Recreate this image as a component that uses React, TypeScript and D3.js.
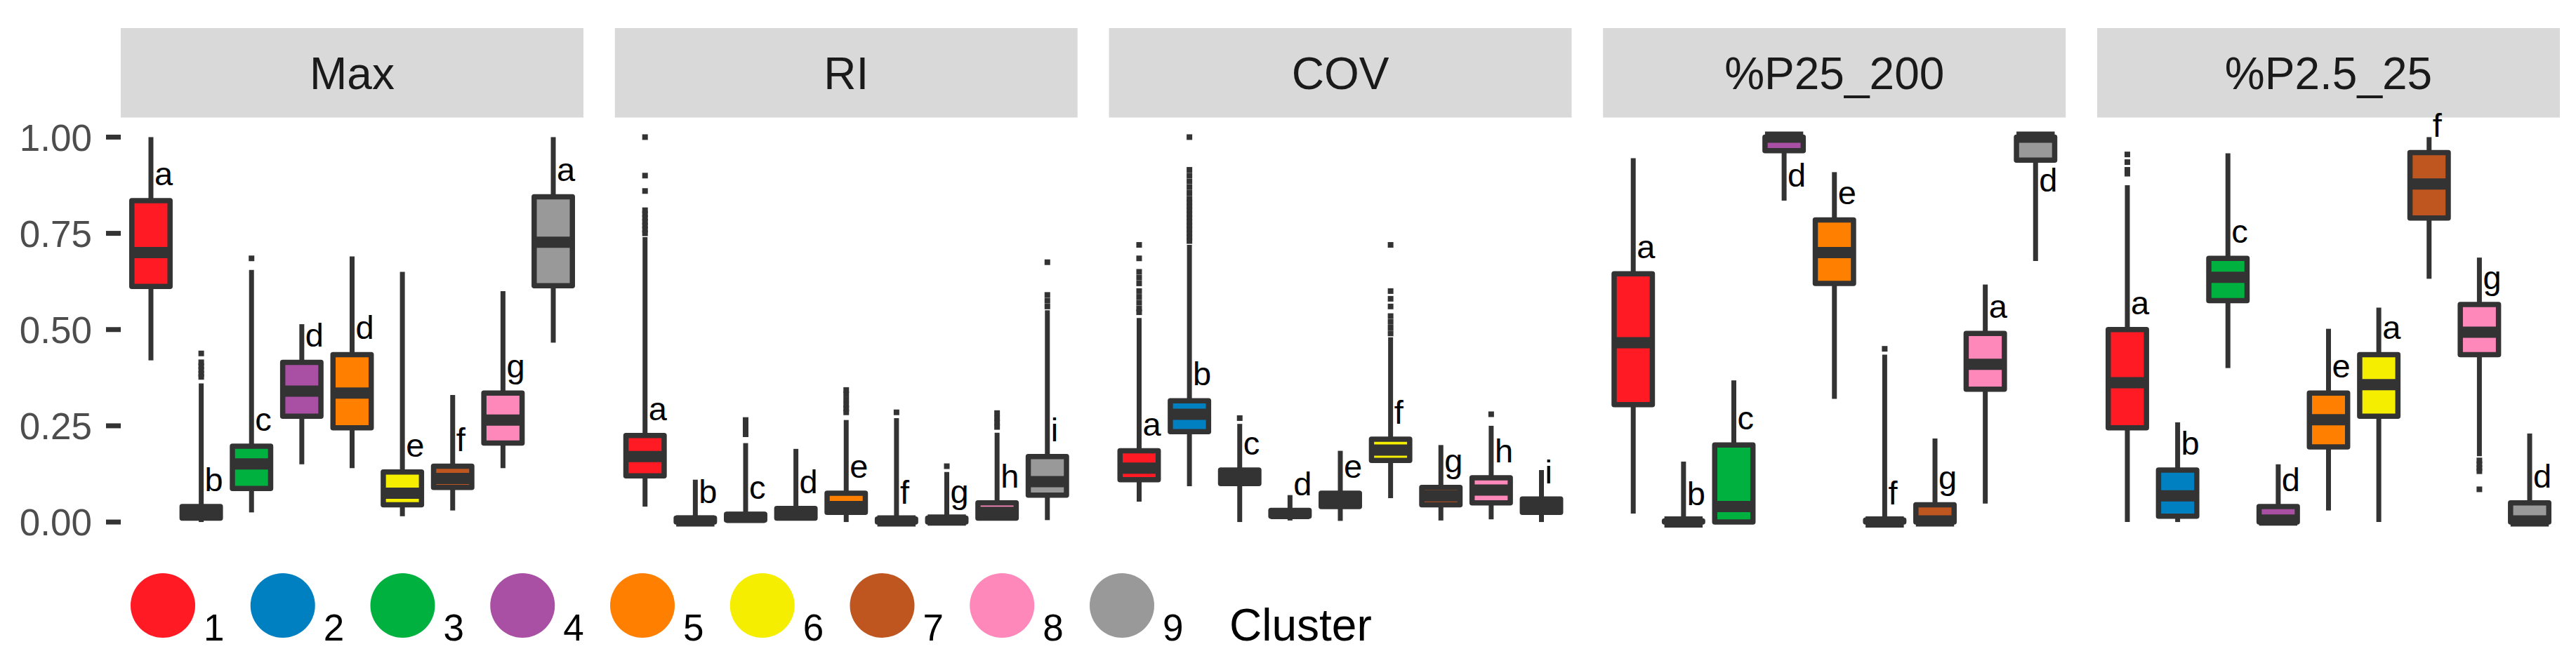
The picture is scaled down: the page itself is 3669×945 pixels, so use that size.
import React from "react";
import * as d3 from "d3";

// ---------- data ----------
const clusters = ["1", "2", "3", "4", "5", "6", "7", "8", "9"];
const clusterColors = ["#FF1A24", "#0080C0", "#00B140", "#A94FA4", "#FF7F00", "#F5EE00", "#BF5620", "#FF88BB", "#999999"];
const panelNames = ["Max", "RI", "COV", "%P25_200", "%P2.5_25"];
const yTicks = [0, 0.25, 0.5, 0.75, 1];
const yTickLabels = ["0.00", "0.25", "0.50", "0.75", "1.00"];
const legendTitle = "Cluster";

// Max
const maxLower = [0.42, 0.0, 0.025, 0.15, 0.14, 0.015, 0.03, 0.14, 0.466];
const maxQ1 = [0.612, 0.01, 0.087, 0.275, 0.245, 0.045, 0.09, 0.205, 0.614];
const maxMedian = [0.7, 0.02, 0.151, 0.34, 0.335, 0.075, 0.113, 0.265, 0.727];
const maxQ3 = [0.835, 0.04, 0.197, 0.415, 0.435, 0.13, 0.145, 0.335, 0.845];
const maxUpper = [1.0, 0.36, 0.655, 0.514, 0.69, 0.65, 0.33, 0.6, 1.0];
const maxOutliers = [[], [0.438, 0.415, 0.405, 0.395, 0.385, 0.377], [0.685], [], [], [], [], [], []];
const maxLetters = ["a", "b", "c", "d", "d", "e", "f", "g", "a"];

// RI
const riLower = [0.04, 0.0, 0.0, 0.004, 0.0, 0.0, 0.0, 0.008, 0.005];
const riQ1 = [0.12, 0.0, 0.005, 0.01, 0.025, 0.0, 0.0, 0.01, 0.07];
const riMedian = [0.17, 0.003, 0.012, 0.02, 0.04, 0.003, 0.005, 0.025, 0.105];
const riQ3 = [0.225, 0.01, 0.02, 0.035, 0.075, 0.008, 0.01, 0.05, 0.17];
const riUpper = [0.74, 0.11, 0.205, 0.19, 0.265, 0.27, 0.13, 0.232, 0.55];
const riOutliers = [
  [1.0, 0.9, 0.86, 0.81, 0.8, 0.79, 0.78, 0.77, 0.76, 0.75],
  [],
  [0.265, 0.255, 0.245, 0.235, 0.228],
  [],
  [0.343, 0.332, 0.318, 0.305, 0.295, 0.285],
  [0.285],
  [0.145],
  [0.283, 0.27, 0.258, 0.247],
  [0.675, 0.59, 0.575, 0.56],
];
const riLetters = ["a", "b", "c", "d", "e", "f", "g", "h", "i"];

// COV
const covLower = [0.053, 0.093, 0.0, 0.004, 0.003, 0.062, 0.004, 0.007, 0.0];
const covQ1 = [0.11, 0.235, 0.1, 0.015, 0.04, 0.16, 0.045, 0.05, 0.025];
const covMedian = [0.14, 0.28, 0.115, 0.022, 0.055, 0.187, 0.068, 0.083, 0.045];
const covQ3 = [0.185, 0.315, 0.135, 0.03, 0.075, 0.215, 0.09, 0.115, 0.06];
const covUpper = [0.53, 0.72, 0.255, 0.07, 0.185, 0.48, 0.2, 0.25, 0.135];
const covOutliers = [
  [0.72, 0.685, 0.65, 0.635, 0.62, 0.6, 0.585, 0.57, 0.555, 0.545],
  [1.0, 0.915, 0.9, 0.885, 0.87, 0.855, 0.84, 0.83, 0.82, 0.81, 0.8, 0.79, 0.78, 0.77, 0.76, 0.75, 0.74, 0.73],
  [0.27],
  [],
  [],
  [0.72, 0.6, 0.58, 0.56, 0.535, 0.52, 0.505, 0.49],
  [],
  [0.28],
  [],
];
const covLetters = ["a", "b", "c", "d", "e", "f", "g", "h", "i"];

// %P25_200
const p25Lower = [0.022, 0.0, 0.0, 0.835, 0.32, 0.0, 0.0, 0.048, 0.678];
const p25Q1 = [0.305, 0.0, 0.0, 0.965, 0.62, 0.0, 0.0, 0.345, 0.94];
const p25Median = [0.466, 0.0, 0.04, 1.0, 0.7, 0.0, 0.003, 0.41, 1.0];
const p25Q3 = [0.645, 0.003, 0.2, 1.0, 0.785, 0.005, 0.045, 0.49, 1.0];
const p25Upper = [0.945, 0.157, 0.368, 1.0, 0.909, 0.435, 0.217, 0.617, 1.0];
const p25Outliers = [[], [], [], [], [], [0.45], [], [], []];
const p25Letters = ["a", "b", "c", "d", "e", "f", "g", "a", "d"];
const p25LetterAt = [null, null, null, 0.832, null, null, null, null, 0.818];

// %P2.5_25
const p2Lower = [0.0, 0.0, 0.4, 0.0, 0.03, 0.0, 0.632, 0.171, 0.0];
const p2Q1 = [0.245, 0.015, 0.575, 0.0, 0.195, 0.275, 0.79, 0.435, 0.0];
const p2Median = [0.362, 0.068, 0.636, 0.005, 0.266, 0.357, 0.878, 0.493, 0.003];
const p2Q3 = [0.5, 0.135, 0.685, 0.04, 0.335, 0.435, 0.96, 0.565, 0.05];
const p2Upper = [0.875, 0.259, 0.958, 0.15, 0.502, 0.557, 1.0, 0.687, 0.23];
const p2Outliers = [[0.955, 0.935, 0.915, 0.905], [], [], [], [], [], [], [0.16, 0.15, 0.14, 0.132, 0.085], []];
const p2Letters = ["a", "b", "c", "d", "e", "a", "f", "g", "d"];

type PanelData = {
  lower: number[]; q1: number[]; median: number[]; q3: number[]; upper: number[];
  outliers: number[][]; letters: string[]; letterAt?: (number | null)[];
};

const panels: PanelData[] = [
  { lower: maxLower, q1: maxQ1, median: maxMedian, q3: maxQ3, upper: maxUpper, outliers: maxOutliers, letters: maxLetters },
  { lower: riLower, q1: riQ1, median: riMedian, q3: riQ3, upper: riUpper, outliers: riOutliers, letters: riLetters },
  { lower: covLower, q1: covQ1, median: covMedian, q3: covQ3, upper: covUpper, outliers: covOutliers, letters: covLetters },
  { lower: p25Lower, q1: p25Q1, median: p25Median, q3: p25Q3, upper: p25Upper, outliers: p25Outliers, letters: p25Letters, letterAt: p25LetterAt },
  { lower: p2Lower, q1: p2Q1, median: p2Median, q3: p2Q3, upper: p2Upper, outliers: p2Outliers, letters: p2Letters },
];

// ---------- layout ----------
const W = 3669;
const H = 945;
const FONT = "'Liberation Sans', Arial, Helvetica, sans-serif";
const panelLeft0 = 172;
const panelStep = 703.75;
const panelW = 659;
const stripTop = 40;
const stripBottom = 167.5;
const plotTop = 168;
const plotBottom = 771.5;
const lineCol = "#333333";
const whiskerW = 7;
const borderW = 7.5;
const medianW = 16;

export default function App() {
  const y = d3.scaleLinear().domain([-0.05, 1.05]).range([plotBottom, plotTop]);
  const boxW = 0.76;

  return (
    <svg width={W} height={H} style={{ position: "absolute", left: 0, top: 0, background: "#fff" }} fontFamily={FONT}>
      <rect x={0} y={0} width={W} height={H} fill="#fff" />
      {yTicks.map((t, i) => (
        <g key={"yt" + i}>
          <line x1={151} x2={172} y1={y(t)} y2={y(t)} stroke={lineCol} strokeWidth={7} />
          <text x={131} y={y(t)} dy="0.36em" textAnchor="end" fontSize={53} fill="#4D4D4D">
            {yTickLabels[i]}
          </text>
        </g>
      ))}
      {panels.map((p, pi) => {
        const left = panelLeft0 + pi * panelStep;
        const x = d3.scaleLinear().domain([0.4, clusters.length + 0.6]).range([left, left + panelW]);
        const half = x(1 + boxW / 2) - x(1);
        return (
          <g key={"p" + pi}>
            <rect x={left} y={stripTop} width={panelW} height={stripBottom - stripTop} fill="#D9D9D9" />
            <text x={left + panelW / 2} y={(stripTop + stripBottom) / 2} dy="0.36em" textAnchor="middle" fontSize={64} fill="#1A1A1A">
              {panelNames[pi]}
            </text>
            {clusters.map((c, ci) => {
              const xc = x(ci + 1);
              return (
                <g key={"b" + ci}>
                  <line x1={xc} x2={xc} y1={y(p.q3[ci])} y2={y(p.upper[ci])} stroke={lineCol} strokeWidth={whiskerW} />
                  <line x1={xc} x2={xc} y1={y(p.q1[ci])} y2={y(p.lower[ci])} stroke={lineCol} strokeWidth={whiskerW} />
                  <rect
                    x={xc - half}
                    y={y(p.q3[ci])}
                    width={half * 2}
                    height={Math.max(0.01, y(p.q1[ci]) - y(p.q3[ci]))}
                    fill={clusterColors[ci]}
                    stroke={lineCol}
                    strokeWidth={borderW}
                    strokeLinejoin="round"
                  />
                  <line x1={xc - half} x2={xc + half} y1={y(p.median[ci])} y2={y(p.median[ci])} stroke={lineCol} strokeWidth={medianW} strokeLinecap="butt" />
                  {p.outliers[ci].map((o, oi) => (
                    <rect key={"o" + oi} x={xc - 4} y={y(o) - 4} width={8} height={8} fill={lineCol} />
                  ))}
                </g>
              );
            })}
            {clusters.map((c, ci) => {
              const xc = x(ci + 1);
              const at = p.letterAt && p.letterAt[ci] != null ? (p.letterAt[ci] as number) : p.q3[ci];
              return (
                <text key={"l" + ci} x={xc + 5} y={y(at) - 22} fontSize={47} fill="#000">
                  {p.letters[ci]}
                </text>
              );
            })}
          </g>
        );
      })}
      {clusters.map((c, i) => {
        const cx = 232 + i * 170.75;
        return (
          <g key={"lg" + i}>
            <circle cx={cx} cy={863} r={46} fill={clusterColors[i]} />
            <text x={cx + 58} y={913} fontSize={53} fill="#000">
              {c}
            </text>
          </g>
        );
      })}
      <text x={1751} y={913} fontSize={64} fill="#000">
        {legendTitle}
      </text>
    </svg>
  );
}
